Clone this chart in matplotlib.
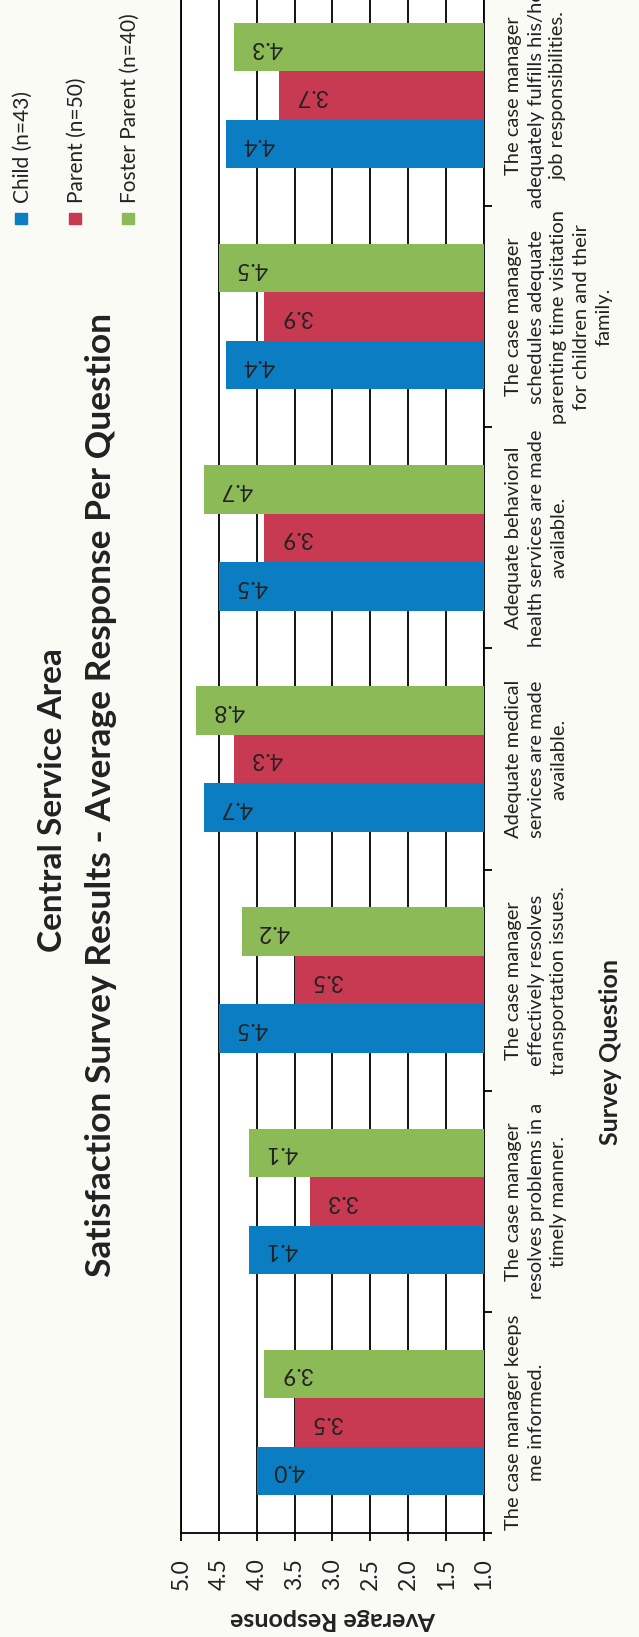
import matplotlib
matplotlib.use("Agg")
import matplotlib.pyplot as plt
import matplotlib.transforms as mtransforms
from matplotlib.patches import Rectangle
from matplotlib.ticker import MultipleLocator, FormatStrFormatter
import numpy as np

# survey questions, first one drawn at the bottom of the page
questions = [
    "The case manager keeps\nme informed.",
    "The case manager\nresolves problems in a\ntimely manner.",
    "The case manager\neffectively resolves\ntransportation issues.",
    "Adequate medical\nservices are made\navailable.",
    "Adequate behavioral\nhealth services are made\navailable.",
    "The case manager\nschedules adequate\nparenting time visitation\nfor children and their\nfamily.",
    "The case manager\nadequately fulfills his/her\njob responsibilities.",
]
child = [4.0, 4.1, 4.5, 4.7, 4.5, 4.4, 4.4]
parent = [3.5, 3.3, 3.5, 4.3, 3.9, 3.9, 3.7]
foster = [3.9, 4.1, 4.2, 4.8, 4.7, 4.5, 4.3]
series_names = ["Child (n=43)", "Parent (n=50)", "Foster Parent (n=40)"]
series_colors = ["#0B7DC2", "#C83A52", "#8CBA56"]

plt.rcParams["font.family"] = ["Lato", "DejaVu Sans"]
TEXT = "#222222"

W, H = 639, 1637
fig = plt.figure(figsize=(W / 100, H / 100), dpi=100, facecolor="#FBFBF6")


def fx(px):
    return px / W


def fy(py):
    return 1 - py / H


# the whole chart is laid on its side: values run right-to-left, questions bottom-to-top
ax = fig.add_axes([fx(181), fy(1533), (484 - 181) / W, (1533 + 15) / H])
ax.set_facecolor("white")

bar_h = 0.219
ypos_base = np.arange(len(questions))
for k, (vals, color) in enumerate(zip([child, parent, foster], series_colors)):
    vals = np.array(vals)
    ypos = ypos_base + (k - 1) * bar_h
    ax.barh(ypos, vals - 1.0, left=1.0, height=bar_h, color=color, zorder=3)
    for y, v in zip(ypos, vals):
        ax.text(v - 0.22, y, f"{v:.1f}", rotation=180, ha="left", va="center",
                fontsize=16.5, color=TEXT, zorder=4)

ax.set_xlim(5.0, 1.0)
ax.set_ylim(-0.5, len(questions) - 0.5)
ax.xaxis.set_major_locator(MultipleLocator(0.5))
ax.xaxis.set_major_formatter(FormatStrFormatter("%.1f"))
ax.grid(axis="x", color="black", linewidth=1.3, zorder=1)
ax.tick_params(axis="x", direction="out", length=6, width=1.3, color="black",
               labelsize=16.5, labelcolor=TEXT, labelrotation=90, pad=12)

ax.yaxis.tick_right()
ax.set_yticks(np.arange(-0.5, len(questions), 1.0))
ax.set_yticklabels([])
ax.tick_params(axis="y", direction="out", length=6, width=1.3, color="black")

for side in ["left", "right", "bottom"]:
    ax.spines[side].set_color("black")
    ax.spines[side].set_linewidth(1.3)
ax.spines["top"].set_visible(False)

# question labels to the right of the axis
trans = mtransforms.blended_transform_factory(fig.transFigure, ax.transData)
for i, q in enumerate(questions):
    ax.text(fx(505), i, q, transform=trans, rotation=90, ha="left", va="center",
            multialignment="center", fontsize=14.5, linespacing=1.4, color=TEXT)

# titles
fig.text(fx(53), fy(800), "Central Service Area", rotation=90, ha="center",
         va="center", fontsize=24, fontweight="bold", color=TEXT)
fig.text(fx(101), fy(795), "Satisfaction Survey Results - Average Response Per Question",
         rotation=90, ha="center", va="center", fontsize=25.5, fontweight="bold", color=TEXT)

fig.text(fx(333), fy(1619), "Average Response", rotation=180, ha="center", va="center",
         fontsize=18, fontweight="bold", color=TEXT)
fig.text(fx(611), fy(1052), "Survey Question", rotation=90, ha="center", va="center",
         fontsize=18, fontweight="bold", color=TEXT)

# legend
for k, (name, color) in enumerate(zip(series_names, series_colors)):
    cx = 21 + 53.5 * k
    fig.add_artist(Rectangle((fx(cx - 6), fy(224)), 12 / W, 11 / H,
                             transform=fig.transFigure, color=color))
    fig.text(fx(cx + 2), fy(203), name, rotation=90, ha="center", va="bottom",
             fontsize=15, color=TEXT)

fig.savefig("out.png", dpi=100, facecolor=fig.get_facecolor())
